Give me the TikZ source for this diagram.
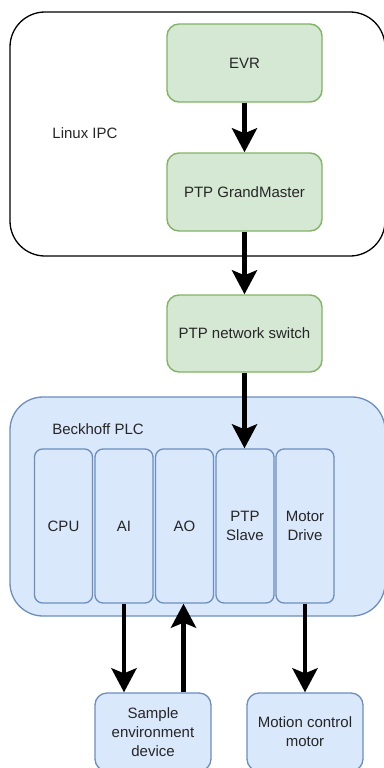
\documentclass[tikz,border=0pt]{standalone}
\usepackage{fontspec}
\setmainfont{Liberation Sans}
\usetikzlibrary{arrows.meta}
\definecolor{greenfill}{HTML}{D5E8D4}
\definecolor{greenline}{HTML}{82B366}
\definecolor{bluefill}{HTML}{DAE8FC}
\definecolor{blueline}{HTML}{6C8EBF}
\begin{document}
\begin{tikzpicture}[x=1pt,y=-1pt,
  every node/.style={font=\fontsize{15}{19}\selectfont, text=black!85},
  greenbox/.style={draw=greenline, fill=greenfill, line width=1.4pt, rounded corners=12pt,
    minimum width=155pt, inner sep=0pt, align=center},
  modulebox/.style={draw=blueline, fill=bluefill, line width=1.3pt, rounded corners=8pt,
    minimum width=58pt, minimum height=154pt, inner sep=0pt, align=center},
  devbox/.style={draw=blueline, fill=bluefill, line width=1.3pt, rounded corners=12pt,
    minimum width=116pt, minimum height=78pt, inner sep=0pt, align=center},
  flow/.style={line width=4.8pt, -{Stealth[length=24pt, width=25pt, inset=5pt]}}]
\useasboundingbox (0,0) rectangle (383,768);
\fill[white] (0,0) rectangle (383,768);

% host computer
\draw[line width=1.3pt, rounded corners=35pt] (10,12) rectangle (385,256);
\node (ipc) at (85,133) {Linux IPC};
\node[greenbox, minimum height=78pt] (evr) at (244.5,63) {EVR};
\node[greenbox, minimum height=78pt] (gm) at (244.5,192) {PTP GrandMaster};

% network
\node[greenbox, minimum height=77pt] (sw) at (244.5,333.5) {PTP network switch};

% PLC rack
\draw[draw=blueline, fill=bluefill, line width=1.3pt, rounded corners=33pt] (10,397) rectangle (385,616);
\node (plc) at (98,429) {Beckhoff PLC};
\node[modulebox] (cpu) at (63.5,526) {CPU};
\node[modulebox] (ai) at (124,526) {AI};
\node[modulebox] (ao) at (184.5,526) {AO};
\node[modulebox] (ptps) at (245,526) {PTP\\Slave};
\node[modulebox] (md) at (305,526) {Motor\\Drive};

% field devices
\node[devbox] (sed) at (153,732) {Sample\\environment\\device};
\node[devbox] (mot) at (305,732) {Motion control\\motor};

% signal flow
\draw[flow] (evr.south) -- (gm.north);
\draw[flow] (gm.south) -- (sw.north);
\draw[flow] (sw.south) -- (sw.south |- ptps.north);
\draw[flow] (ai.south) -- (ai.south |- sed.north);
\draw[flow] ([xshift=-1pt]ao.south |- sed.north) -- ([xshift=-1pt]ao.south);
\draw[flow] (md.south) -- (md.south |- mot.north);
\end{tikzpicture}
\end{document}
